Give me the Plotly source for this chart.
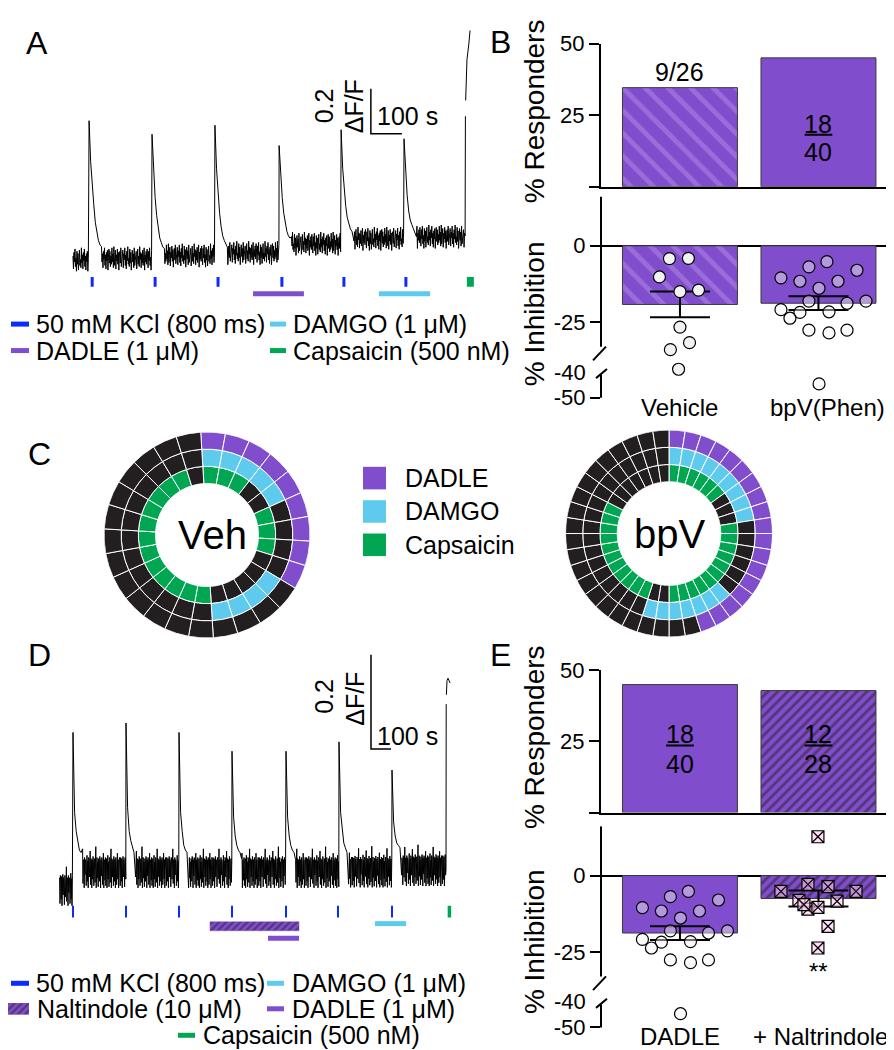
import plotly.graph_objects as go

W, H = 894, 1050
FONT = "Liberation Sans, Arial, Helvetica, sans-serif"


def fx(p):
    return p / W


def fy(p):
    return 1 - p / H


PURPLE = "#804dcc"
PURPLE_LIGHT = "#b48de9"
CYAN = "#5ecbee"
GREEN = "#00a651"
BLUE = "#0b2cff"
INK = "#231f20"

# ======================= DATA =======================
# hand-read noise profile of the recordings (normalised, -1..1)
a_noise = [0.3, -0.8, 0.6, -0.2, 0.9, -0.6, 0.1, -1.0, 0.7, -0.4, 0.5, -0.9, 0.2, 0.8, -0.5, 0.0, -0.7, 1.0, -0.3,
           0.4, -0.8, 0.6, -0.1, 0.9, -0.6, 0.3, -0.9, 0.5, -0.2, 0.7, -1.0, 0.1, 0.8, -0.4, 0.6, -0.7, 0.2, -0.5,
           0.9, -0.3, 0.4, -0.8, 1.0, -0.6, 0.0, 0.7, -0.9, 0.3, -0.2, 0.8, -0.5, 0.5, -1.0, 0.2, 0.6, -0.4, 0.9,
           -0.7, 0.1, -0.3, 0.7, -0.8, 0.4, -0.1, 0.9, -0.6, 0.3, -0.9, 0.6, -0.2, 1.0, -0.5, 0.0, -0.7, 0.8, -0.4,
           0.5, -1.0, 0.2, 0.7, -0.3, 0.4, -0.8, 0.9, -0.6, 0.1, -0.2, 0.6, -0.9, 0.3, 0.8, -0.5, 0.2, -0.7, 1.0,
           -0.1, 0.5, -0.8, 0.4, -0.4, 0.7, -0.6, 0.0, 0.9, -1.0, 0.3, -0.3, 0.6, -0.5, 0.8]
d_noise = [0.3, -0.9, 0.4, 0.2, -0.7, 0.35, -1.0, 0.25, 0.45, -0.5, 0.3, 0.1, -0.95, 0.4, 0.25, -0.6, 0.35, 0.8,
           -0.8, 0.3, 0.2, -1.0, 0.4, -0.4, 0.3, 0.15, -0.9, 0.35, 0.5, -0.7, 0.25, -1.0, 0.4, 0.3, -0.5, 0.2, 0.7,
           -0.85, 0.35, 0.25, -1.0, 0.3, -0.6, 0.45, 0.2, -0.9, 0.3, 0.35, -0.75, 0.25, 0.9, -1.0, 0.3, 0.4, -0.55,
           0.2, -0.95, 0.35, 0.3, -0.7, 0.45, 0.15, -1.0, 0.3, -0.45, 0.4, 0.25, -0.85, 0.35, 0.6, -1.0, 0.3, 0.2,
           -0.65, 0.4, -0.9, 0.25, 0.35, -1.0, 0.3, 0.5, -0.6, 0.2, -0.95, 0.4, 0.3, -0.75, 0.25, 0.8, -1.0, 0.35,
           0.2, -0.5, 0.3, -0.9, 0.45, 0.25, -0.7, 0.3, -1.0, 0.4, 0.2, -0.85, 0.35, 0.6, -0.6, 0.3, -1.0, 0.25, 0.4]

# ---- Panel A: calcium trace (dF/F)
a_pre_window = [16, 66]
a_pre_level = -0.005
a_peak_times = [68, 271, 474, 681, 881, 1084]
a_heads = [  # peak and decay, one value every 5 s
    [0.61, 0.43, 0.32, 0.24, 0.16, 0.11, 0.08, 0.06],
    [0.55, 0.38, 0.27, 0.19, 0.13, 0.09, 0.07, 0.05],
    [0.59, 0.40, 0.28, 0.20, 0.14, 0.10, 0.08, 0.06],
    [0.50, 0.36, 0.27, 0.20, 0.15, 0.12, 0.10, 0.09],
    [0.57, 0.40, 0.30, 0.23, 0.18, 0.15, 0.13, 0.12],
    [0.53, 0.38, 0.28, 0.21, 0.17, 0.15, 0.13, 0.12],
]
a_levels = [0.0, 0.013, 0.024, 0.065, 0.087, 0.096]
a_noise_amp = 0.052
a_caps_t = [1281, 1282, 1282.5, 1282.8, 1284, 1287, 1293, 1297]
a_caps_y = [0.10, 0.63, None, 0.70, 0.79, 0.88, 0.95, 1.01]
a_kcl_marks = [78, 281, 484, 690, 890, 1090]
a_caps_mark = 1298
a_dadle_window = [597, 761]
a_damgo_window = [1003, 1168]
a_scale_dff = 0.2
a_scale_s = 100

# ---- Panel D: calcium trace (dF/F)
d_pre_window = [58, 122]
d_pre_level = -0.012
d_peak_times = [125, 390, 655, 920, 1190, 1455, 1720]
d_heads = [  # peak and decay, one value every 8 s
    [0.31, 0.14, 0.10, 0.075, 0.06, 0.055],
    [0.33, 0.15, 0.10, 0.08, 0.065, 0.055],
    [0.31, 0.14, 0.10, 0.07, 0.06, 0.055],
    [0.27, 0.13, 0.09, 0.07, 0.06, 0.055],
    [0.27, 0.13, 0.09, 0.07, 0.06, 0.055],
    [0.29, 0.14, 0.10, 0.075, 0.065, 0.055],
    [0.23, 0.12, 0.09, 0.075, 0.07, 0.065],
]
d_levels = [0.026, 0.026, 0.026, 0.026, 0.026, 0.027, 0.03]
d_noise_amp = 0.046
d_caps_t = [1990, 1991, 1991.5, 1992, 1995, 2000, 2010]
d_caps_y = [0.02, 0.37, None, 0.39, 0.42, 0.425, 0.415]
d_kcl_marks = [125, 390, 655, 920, 1190, 1450, 1720]
d_caps_mark = 2007
d_nal_window = [810, 1255]
d_dadle_window = [1100, 1255]
d_damgo_window = [1635, 1790]
d_scale_dff = 0.2
d_scale_s = 100

# ---- Panel B / E: % responders and % inhibition
b_groups = ["Vehicle", "bpV(Phen)"]
b_resp_pct = [34.6, 45.0]
b_inhib_mean = [-19.2, -18.8]
b_inhib_sem = [4.2, 2.25]
veh_inhib = [-4.2, -4.1, -10.2, -15.0, -14.5, -26.6, -31.7, -34.0, -40.4]
veh_jitter = [-0.076, 0.061, -0.148, 0.0, 0.134, 0.0, 0.069, -0.069, -0.01]
dadle_inhib = [-5.2, -6.9, -8.0, -10.5, -11.6, -11.6, -13.9, -18.1, -18.1, -18.8, -20.9, -21.8, -21.6, -23.7,
               -27.6, -28.5, -27.6, -45.2]
dadle_jitter = [0.061, -0.069, 0.278, -0.271, -0.134, 0.141, 0.004, -0.069, 0.343, 0.206, -0.271, -0.134, 0.076,
                -0.206, -0.069, 0.076, 0.206, 0.004]

e_groups = ["DADLE", "+ Naltrindole"]
e_resp_pct = [45.0, 42.9]
e_inhib_mean = [-18.8, -7.5]
e_inhib_sem = [2.25, 2.6]
nal_inhib = [12.7, -2.9, -3.6, -5.2, -5.2, -8.1, -8.4, -11.0, -10.4, -16.6, -23.7, -9.5]
nal_jitter = [-0.004, -0.076, 0.069, -0.271, 0.271, -0.141, 0.134, -0.076, -0.004, 0.069, -0.004, -0.105]

# ---- Panel C: responses of each neuron (1 = responder)
veh_dadle = [1, 1, 1, 1, 1, 1, 1, 1, 1, 0, 0, 0, 0, 0, 0, 0, 0, 0, 0, 0, 0, 0, 0, 0, 0, 0]
veh_damgo = [1, 1, 1, 1, 1, 0, 0, 0, 0, 1, 1, 1, 1, 0, 0, 0, 0, 0, 0, 0, 0, 0, 0, 0, 0, 0]
veh_caps = [1, 1, 1, 0, 0, 1, 1, 1, 0, 0, 0, 0, 0, 1, 1, 1, 1, 1, 1, 1, 1, 1, 1, 1, 1, 0]
bpv_dadle = [1, 1, 1, 1, 1, 1, 1, 1, 1, 1, 1, 1, 1, 1, 1, 1, 1, 1, 0, 0,
             0, 0, 0, 0, 0, 0, 0, 0, 0, 0, 0, 0, 0, 0, 0, 0, 0, 0, 0, 0]
bpv_damgo = [1, 1, 1, 1, 1, 1, 1, 1, 1, 0, 0, 0, 0, 0, 0, 1, 1, 1, 1, 1,
             1, 1, 0, 0, 0, 0, 0, 0, 0, 0, 0, 0, 0, 0, 0, 0, 0, 0, 0, 0]
bpv_caps = [1, 1, 1, 1, 1, 1, 0, 0, 0, 1, 1, 1, 1, 1, 1, 1, 1, 1, 1, 1,
            0, 0, 1, 1, 1, 1, 1, 1, 1, 1, 1, 1, 1, 0, 0, 0, 0, 0, 0, 0]

# ======================= FIGURE =======================
fig = go.Figure()
shapes = []
annos = []


def text(x, y, s, size=25, xanchor="center", yanchor="middle", angle=0, xref="paper", yref="paper", **kw):
    annos.append(dict(x=x, y=y, xref=xref, yref=yref, text=s, showarrow=False, xanchor=xanchor,
                      yanchor=yanchor, textangle=angle, font=dict(family=FONT, size=size, color="black"), **kw))


def build_trace(pre_win, pre_lvl, peaks, heads, head_dt, levels, noise, amp, dt, caps_t, caps_y):
    ts, ys = [], []
    j = 0
    t = pre_win[0]
    while t <= pre_win[1]:
        ts.append(t)
        ys.append(pre_lvl + amp * noise[j % len(noise)])
        t += dt
        j += 1
    nxt = peaks[1:] + [caps_t[0]]
    for k, (t0, t1, head, lvl) in enumerate(zip(peaks, nxt, heads, levels)):
        for i, v in enumerate(head):
            ts.append(t0 + i * head_dt)
            ys.append(v)
        t = t0 + len(head) * head_dt
        j = 17 * (k + 1)
        while t < t1 - 0.5:
            ts.append(t)
            ys.append(lvl + amp * noise[j % len(noise)])
            t += dt
            j += 1
    return ts + caps_t, ys + caps_y


def vmarks(times, y0, y1):
    xs, ys = [], []
    for t in times:
        xs += [t, t, None]
        ys += [y0, y1, None]
    return xs, ys


def add_line(xs, ys, color, width, xa, ya):
    fig.add_trace(go.Scatter(x=xs, y=ys, mode="lines", line=dict(color=color, width=width),
                             xaxis=xa, yaxis=ya, hoverinfo="skip", showlegend=False))


# ---------- Panel A ----------
ta, ya = build_trace(a_pre_window, a_pre_level, a_peak_times, a_heads, 5, a_levels, a_noise, a_noise_amp, 1.6,
                     a_caps_t, a_caps_y)
add_line(ta, ya, "black", 1, "x", "y")
xs, ys = vmarks(a_kcl_marks, -0.083, -0.126)
add_line(xs, ys, BLUE, 3, "x", "y")
add_line([a_caps_mark, a_caps_mark], [-0.083, -0.126], GREEN, 7, "x", "y")
add_line(a_dadle_window, [-0.157, -0.157], PURPLE, 5, "x", "y")
add_line(a_damgo_window, [-0.157, -0.157], CYAN, 5, "x", "y")
sb_x0, sb_y0 = 977, 0.552
add_line([sb_x0, sb_x0, sb_x0 + a_scale_s], [sb_y0 + a_scale_dff, sb_y0, sb_y0], "black", 1.5, "x", "y")

# ---------- Panel D ----------
td, yd = build_trace(d_pre_window, d_pre_level, d_peak_times, d_heads, 8, d_levels, d_noise, d_noise_amp, 2.0,
                     d_caps_t, d_caps_y)
add_line(td, yd, "black", 1, "x4", "y4")
xs, ys = vmarks(d_kcl_marks, -0.058, -0.083)
add_line(xs, ys, BLUE, 2, "x4", "y4")
add_line([d_caps_mark, d_caps_mark], [-0.058, -0.083], GREEN, 3.5, "x4", "y4")
n0, n1 = d_nal_window
fig.add_trace(go.Scatter(x=[n0, n1, n1, n0, n0], y=[-0.092, -0.092, -0.111, -0.111, -0.092], mode="lines",
                         fill="toself", fillcolor=PURPLE,
                         fillpattern=dict(shape="/", fgcolor=INK, bgcolor=PURPLE, size=5, solidity=0.45),
                         line=dict(color=PURPLE, width=0.5), xaxis="x4", yaxis="y4", hoverinfo="skip",
                         showlegend=False))
add_line(d_dadle_window, [-0.127, -0.127], PURPLE, 5, "x4", "y4")
add_line(d_damgo_window, [-0.096, -0.096], CYAN, 5, "x4", "y4")
sd_x0, sd_y0 = 1615, 0.275
add_line([sd_x0, sd_x0, sd_x0 + d_scale_s], [sd_y0 + d_scale_dff, sd_y0, sd_y0], "black", 1.5, "x4", "y4")

fig.add_trace(go.Scatter(x=[0, 1, 1, 0, 0], y=[0, 0, 1, 1, 0], mode="lines", fill="toself", fillcolor=PURPLE,
                         fillpattern=dict(shape="/", fgcolor=INK, bgcolor=PURPLE, size=5, solidity=0.45),
                         line=dict(color=PURPLE, width=0.5), xaxis="x7", yaxis="y7", hoverinfo="skip",
                         showlegend=False))


# ---------- Panels B and E ----------
def bar_panel(xt, yt, xb, yb, resp, means, sems, patterns, dots):
    for i, (r, pat) in enumerate(zip(resp, patterns)):
        for xa_, ya_, val in ((xt, yt, r), (xb, yb, means[i])):
            fig.add_trace(go.Bar(x=[i], y=[val], width=0.83, xaxis=xa_, yaxis=ya_,
                                 marker=dict(color=PURPLE, line=dict(color="#3a3a3a", width=1), pattern=pat),
                                 hoverinfo="skip", showlegend=False))
    fig.add_trace(go.Scatter(x=[0, 1], y=means, mode="markers", marker=dict(size=1, color="rgba(0,0,0,0)"),
                             error_y=dict(type="data", array=sems, color="black", thickness=2, width=30),
                             xaxis=xb, yaxis=yb, hoverinfo="skip", showlegend=False))
    for (cx, vals, jit, sym, fill) in dots:
        fig.add_trace(go.Scatter(x=[cx + j for j in jit], y=vals, mode="markers",
                                 marker=dict(symbol=sym, size=12, color=fill, line=dict(color="black", width=1.2)),
                                 xaxis=xb, yaxis=yb, hoverinfo="skip", showlegend=False))


NOPAT = dict(shape="")
VEH_PAT = dict(shape="\\", fgcolor=PURPLE_LIGHT, bgcolor=PURPLE, size=16, solidity=0.3)
NAL_PAT = dict(shape="/", fgcolor=INK, bgcolor=PURPLE, size=7, solidity=0.4)
SEMI = "rgba(246,246,246,0.45)"

bar_panel("x2", "y2", "x3", "y3", b_resp_pct, b_inhib_mean, b_inhib_sem, [VEH_PAT, NOPAT],
          [(0, veh_inhib, veh_jitter, "circle", "#f2f2f2"),
           (1, dadle_inhib, dadle_jitter, "circle", SEMI)])
bar_panel("x5", "y5", "x6", "y6", e_resp_pct, e_inhib_mean, e_inhib_sem, [NOPAT, NAL_PAT],
          [(0, dadle_inhib, dadle_jitter, "circle", SEMI),
           (1, nal_inhib, nal_jitter, "square-x", "rgba(255,200,240,0.6)")])


# ---------- Panel C donuts ----------
def rings(resp_lists, colors, subplot):
    n = len(resp_lists[0])
    step = 360 / n
    for ring, (resp, col) in enumerate(zip(resp_lists, colors)):
        fig.add_trace(go.Barpolar(theta=[(k + 0.5) * step for k in range(n)], r=[1] * n, base=[ring] * n,
                                  width=[step] * n,
                                  marker=dict(color=[col if v else INK for v in resp],
                                              line=dict(color="white", width=1)),
                                  subplot=subplot, hoverinfo="skip", showlegend=False))


rings([veh_caps, veh_damgo, veh_dadle], [GREEN, CYAN, PURPLE], "polar")
rings([bpv_caps, bpv_damgo, bpv_dadle], [GREEN, CYAN, PURPLE], "polar2")


def polar_cfg(x0, x1, y0, y1, rot=90):
    return dict(domain=dict(x=[fx(x0), fx(x1)], y=[fy(y1), fy(y0)]), hole=0.5, bargap=0,
                bgcolor="rgba(0,0,0,0)",
                radialaxis=dict(visible=False, range=[0, 3]),
                angularaxis=dict(visible=False, direction="clockwise", rotation=rot))


# ======================= LAYOUT =======================
def hidden(domain, rng, anchor):
    return dict(domain=domain, range=rng, anchor=anchor, visible=False, fixedrange=True)


TICKF = dict(family=FONT, size=22, color="black")
XR = [-0.570, 1.603]

layout = dict(
    width=W, height=H, margin=dict(l=0, r=0, t=0, b=0), paper_bgcolor="white", plot_bgcolor="rgba(0,0,0,0)",
    showlegend=False, barmode="overlay", font=dict(family=FONT, color="black"),
    xaxis=hidden([fx(50), fx(470)], [-32.3, 1322.6], "y"),
    yaxis=hidden([fy(290), fy(0)], [-0.2043, 1.0565], "x"),
    xaxis4=hidden([fx(40), fx(470)], [0, 2150], "y4"),
    yaxis4=hidden([fy(950), fy(640)], [-0.156, 0.4896], "x4"),
    xaxis7=hidden([fx(0), fx(21)], [0, 1], "y7"),
    yaxis7=hidden([fy(1014), fy(1002)], [0, 1], "x7"),
    polar=polar_cfg(94, 304, 420, 630, rot=93.5),
    polar2=polar_cfg(556, 766, 418, 629),
)

for xt, yt, xb, yb, ytop, ybot in (("xaxis2", "yaxis2", "xaxis3", "yaxis3", (24, 170), (180, 390)),
                                   ("xaxis5", "yaxis5", "xaxis6", "yaxis6", (663, 808), (822, 1032))):
    layout[xt] = dict(domain=[fx(593), fx(894)], range=XR, anchor=yt.replace("axis", ""), showline=True,
                      linecolor="black", linewidth=2, ticks="", showticklabels=False, showgrid=False,
                      zeroline=False, fixedrange=True)
    layout[yt] = dict(domain=[fy(ytop[1]), fy(ytop[0])], range=[0, 50], anchor=xt.replace("axis", ""),
                      showline=True, linecolor="black", linewidth=2, ticks="outside", ticklen=10, tickwidth=2,
                      tickcolor="black", tickvals=[0, 25, 50], ticktext=["", "25", "50"], tickfont=TICKF,
                      showgrid=False, zeroline=False, fixedrange=True)
    layout[xb] = dict(domain=[fx(593), fx(894)], range=XR, anchor=yb.replace("axis", ""), visible=False,
                      fixedrange=True)
    layout[yb] = dict(domain=[fy(ybot[1]), fy(ybot[0])], range=[-51.3, 16.1], anchor=xb.replace("axis", ""),
                      showline=False, ticks="outside", ticklen=10, tickwidth=2, tickcolor="black",
                      tickvals=[0, -25, -49.7], ticktext=["0", "-25", "-50"], tickfont=TICKF, showgrid=False,
                      zeroline=True, zerolinecolor="black", zerolinewidth=2, fixedrange=True)
    yr = yb.replace("axis", "")
    shapes.append(dict(type="line", xref="paper", yref=yr, x0=fx(593), x1=fx(593), y0=16.1, y1=-33,
                       line=dict(color="black", width=2)))
    shapes.append(dict(type="line", xref="paper", yref=yr, x0=fx(585), x1=fx(598), y0=-37.5, y1=-33,
                       line=dict(color="black", width=2)))
    shapes.append(dict(type="line", xref="paper", yref=yr, x0=fx(588), x1=fx(599), y0=-43.3, y1=-40.3,
                       line=dict(color="black", width=2)))
    shapes.append(dict(type="line", xref="paper", yref=yr, x0=fx(593), x1=fx(593), y0=-42.3, y1=-49.7,
                       line=dict(color="black", width=2)))
    text(fx(580), -41.3, "-40", size=22, xanchor="right", yref=yr)

text(fx(526), fy(93), "% Responders", size=28, angle=-90)
text(fx(526), fy(300), "% Inhibition", size=28, angle=-90)
text(fx(526), fy(731), "% Responders", size=28, angle=-90)
text(fx(526), fy(940), "% Inhibition", size=28, angle=-90)

text(0, fy(395), b_groups[0], size=24, xref="x3")
text(1, fy(395), b_groups[1], size=24, xref="x3", xshift=9)
text(0, fy(1036), e_groups[0], size=24, xref="x6")
text(1, fy(1036), e_groups[1], size=24, xref="x6", xshift=2)

text(0, b_resp_pct[0], "9/26", size=25, yanchor="bottom", xref="x2", yref="y2")
text(1, 21.9, "18", size=25, xref="x2", yref="y2")
text(1, 12.0, "40", size=25, xref="x2", yref="y2")
shapes.append(dict(type="line", xref="x2", yref="y2", x0=0.9, x1=1.1, y0=18.2, y1=18.2,
                   line=dict(color="black", width=2)))
text(0, 27.6, "18", size=25, xref="x5", yref="y5")
text(0, 17.2, "40", size=25, xref="x5", yref="y5")
shapes.append(dict(type="line", xref="x5", yref="y5", x0=-0.1, x1=0.1, y0=23.6, y1=23.6,
                   line=dict(color="black", width=2)))
text(1, 27.6, "12", size=25, xref="x5", yref="y5")
text(1, 17.2, "28", size=25, xref="x5", yref="y5")
shapes.append(dict(type="line", xref="x5", yref="y5", x0=0.9, x1=1.1, y0=23.6, y1=23.6,
                   line=dict(color="black", width=2)))
text(1, -31.5, "**", size=24, xref="x6", yref="y6")

for s, x, y in (("A", 29, 23), ("B", 492, 22), ("C", 31, 442), ("D", 31, 647), ("E", 492, 647)):
    text(fx(x), fy(y), s, size=32)

text(fx(316), fy(88), "0.2", size=25, angle=-90)
text(fx(346), fy(88), "ΔF/F", size=25, angle=-90)
text(fx(367), fy(98), "100 s", size=25, xanchor="left")
text(fx(316), fy(690), "0.2", size=25, angle=-90)
text(fx(347), fy(692), "ΔF/F", size=25, angle=-90)
text(fx(367), fy(730), "100 s", size=25, xanchor="left")

text(fx(204), fy(525), "Veh", size=40)
text(fx(661), fy(524), "bpV", size=40)


def dash(x0, x1, y, color, width=5):
    shapes.append(dict(type="line", xref="paper", yref="paper", x0=fx(x0), x1=fx(x1), y0=fy(y), y1=fy(y),
                       line=dict(color=color, width=width)))


dash(3, 21, 310, BLUE)
text(fx(26), fy(310), "50 mM KCl (800 ms)", xanchor="left")
dash(262, 278, 310, CYAN)
text(fx(283), fy(310), "DAMGO (1 μM)", xanchor="left")
dash(3, 21, 337, PURPLE)
text(fx(26), fy(337), "DADLE (1 μM)", xanchor="left")
dash(262, 278, 337, GREEN)
text(fx(283), fy(337), "Capsaicin (500 nM)", xanchor="left")

dash(3, 21, 982, BLUE)
text(fx(26), fy(982), "50 mM KCl (800 ms)", xanchor="left")
dash(259, 276, 982, CYAN)
text(fx(282), fy(982), "DAMGO (1 μM)", xanchor="left")
text(fx(27), fy(1008), "Naltindole (10 μM)", xanchor="left")
dash(259, 276, 1008, PURPLE)
text(fx(282), fy(1008), "DADLE (1 μM)", xanchor="left")
dash(170, 187, 1035, GREEN)
text(fx(193), fy(1035), "Capsaicin (500 nM)", xanchor="left")

for lab, col, y in (("DADLE", PURPLE, 467), ("DAMGO", CYAN, 501), ("Capsaicin", GREEN, 535)):
    shapes.append(dict(type="rect", xref="paper", yref="paper", x0=fx(355), x1=fx(378), y0=fy(y + 11.5),
                       y1=fy(y - 11.5), fillcolor=col, line=dict(width=0)))
    text(fx(395), fy(y), lab, xanchor="left")

layout["shapes"] = shapes
layout["annotations"] = annos
fig.update_layout(**layout)
fig.write_html("out.html")
